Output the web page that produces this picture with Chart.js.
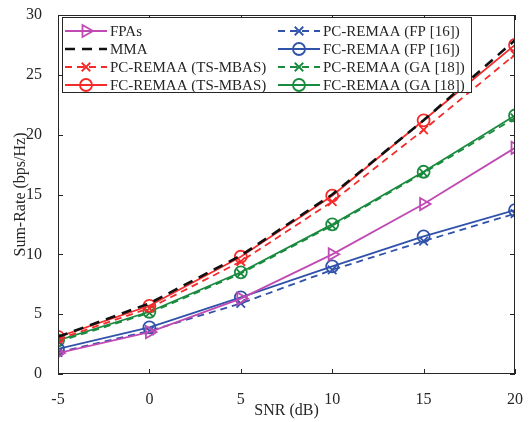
<!DOCTYPE html>
<html>
<head>
<meta charset="utf-8">
<script src="https://cdn.jsdelivr.net/npm/chart.js@4/dist/chart.umd.min.js"></script>
<style>
  html, body { margin: 0; padding: 0; background: #fff; }
  #wrap { width: 530px; height: 422px; position: relative; }
</style>
</head>
<body>
<div id="wrap"><canvas id="rate-chart" width="530" height="422"></canvas></div>
<script>
// --- data ---
const snrLabels = [-5, 0, 5, 10, 15, 20];
const yTicks = [0, 5, 10, 15, 20, 25, 30];

const fpas      = [1.75, 3.5, 6.3, 10.0, 14.2, 18.9];
const mma       = [3.1, 5.9, 9.9, 15.0, 21.2, 27.9];
const pcTsMbas  = [2.9, 5.5, 9.4, 14.4, 20.4, 26.7];
const fcTsMbas  = [3.1, 5.7, 9.8, 14.9, 21.2, 27.5];
const pcFp      = [1.8, 3.6, 5.9, 8.7, 11.1, 13.4];
const fcFp      = [2.1, 3.9, 6.4, 9.0, 11.5, 13.7];
const pcGa      = [2.7, 5.1, 8.4, 12.4, 16.8, 21.4];
const fcGa      = [2.8, 5.2, 8.5, 12.5, 16.9, 21.6];

const MAGENTA = '#c04ab4';
const RED = '#f52a2a';
const BLUE = '#3052aa';
const GREEN = '#198a3e';
const TEXT = '#262626';
const FONT = "'Liberation Serif', 'DejaVu Serif', serif";

const toPts = arr => arr.map((v, i) => ({ x: snrLabels[i], y: v }));

const series = [
    { label: 'FPAs', data: fpas, color: MAGENTA, dash: [], marker: 'triangle', rot: 90, r: 7 },
    { label: 'MMA', data: mma, color: '#111', dash: [10, 7], marker: false, width: 2.6 },
    { label: 'PC-REMAA (TS-MBAS)', data: pcTsMbas, color: RED, dash: [7, 5], marker: 'crossRot', r: 6 },
    { label: 'FC-REMAA (TS-MBAS)', data: fcTsMbas, color: RED, dash: [], marker: 'circle', r: 6 },
    { label: 'PC-REMAA (FP [16])', data: pcFp, color: BLUE, dash: [7, 5], marker: 'crossRot', r: 6 },
    { label: 'FC-REMAA (FP [16])', data: fcFp, color: BLUE, dash: [], marker: 'circle', r: 6 },
    { label: 'PC-REMAA (GA [18])', data: pcGa, color: GREEN, dash: [7, 5], marker: 'crossRot', r: 6 },
    { label: 'FC-REMAA (GA [18])', data: fcGa, color: GREEN, dash: [], marker: 'circle', r: 6 }
];

// MATLAB-like box with inward ticks
const boxPlugin = {
    id: 'matlabBox',
    afterDraw(chart) {
        const { ctx, chartArea: a, scales } = chart;
        ctx.save();
        ctx.strokeStyle = TEXT;
        ctx.lineWidth = 1;
        ctx.setLineDash([]);
        ctx.strokeRect(a.left + 0.5, a.top + 0.5, a.right - a.left - 1, a.bottom - a.top - 1);
        const tl = 5;
        ctx.beginPath();
        snrLabels.forEach(v => {
            const x = Math.round(scales.x.getPixelForValue(v)) + 0.5;
            ctx.moveTo(x, a.bottom); ctx.lineTo(x, a.bottom - tl);
            ctx.moveTo(x, a.top); ctx.lineTo(x, a.top + tl);
        });
        yTicks.forEach(v => {
            const y = Math.round(scales.y.getPixelForValue(v)) + 0.5;
            ctx.moveTo(a.left, y); ctx.lineTo(a.left + tl, y);
            ctx.moveTo(a.right, y); ctx.lineTo(a.right - tl, y);
        });
        ctx.stroke();
        ctx.restore();
    }
};

// Two-column legend inside the axes (column-major, like MATLAB NumColumns=2)
const legendPlugin = {
    id: 'boxLegend',
    afterDraw(chart) {
        const { ctx } = chart;
        const a = chart.chartArea;
        const left = a.left + 4, top = a.top + 2, w = 409, h = 75;
        const rowH = 18, firstRow = top + 14;
        const cols = [{ x0: left + 3, x1: left + 45, tx: left + 48 }, { x0: left + 216, x1: left + 258, tx: left + 261 }];
        ctx.save();
        ctx.fillStyle = '#fff';
        ctx.fillRect(left, top, w, h);
        ctx.strokeStyle = TEXT;
        ctx.lineWidth = 1;
        ctx.strokeRect(left + 0.5, top + 0.5, w, h);
        ctx.font = '15px ' + FONT;
        ctx.textBaseline = 'middle';
        series.forEach((s, i) => {
            const c = cols[Math.floor(i / 4)];
            const y = firstRow + (i % 4) * rowH;
            ctx.strokeStyle = s.color;
            ctx.lineWidth = s.width || 1.8;
            ctx.setLineDash(s.dash);
            ctx.beginPath();
            ctx.moveTo(c.x0, y); ctx.lineTo(c.x1, y);
            ctx.stroke();
            ctx.setLineDash([]);
            if (s.marker) {
                ctx.fillStyle = 'rgba(0,0,0,0)';
                Chart.helpers.drawPoint(ctx, {
                    pointStyle: s.marker, rotation: s.rot || 0, radius: s.r, borderWidth: 1.8
                }, (c.x0 + c.x1) / 2, y);
            }
            ctx.fillStyle = TEXT;
            ctx.fillText(s.label, c.tx, y + 1);
        });
        ctx.restore();
    }
};

const datasets = series.map(s => ({
    label: s.label,
    data: toPts(s.data),
    borderColor: s.color,
    backgroundColor: 'rgba(0,0,0,0)',
    borderWidth: s.width || 1.8,
    borderDash: s.dash,
    pointStyle: s.marker || 'circle',
    pointRotation: s.rot || 0,
    pointRadius: s.marker ? s.r : 0,
    pointBorderWidth: 1.8,
    pointBorderColor: s.color,
    pointBackgroundColor: 'rgba(0,0,0,0)',
    tension: 0,
    fill: false
}));

new Chart(document.getElementById('rate-chart'), {
    type: 'line',
    data: { datasets },
    options: {
        responsive: false,
        animation: false,
        layout: { padding: { top: 15, right: 15, left: 0, bottom: 0 } },
        plugins: { legend: { display: false }, tooltip: { enabled: false } },
        scales: {
            x: {
                type: 'linear', min: -5, max: 20,
                afterBuildTicks: sc => { sc.ticks = snrLabels.map(v => ({ value: v })); },
                afterFit: sc => { sc.height = 48; sc.paddingLeft = 0; sc.paddingRight = 0; },
                grid: { display: false },
                border: { display: false },
                ticks: { color: TEXT, font: { family: FONT, size: 16 }, padding: 8, maxRotation: 0 },
                title: { display: true, text: 'SNR (dB)', color: TEXT, font: { family: FONT, size: 16 }, padding: { top: 0, bottom: 2 } }
            },
            y: {
                min: 0, max: 30,
                afterBuildTicks: sc => { sc.ticks = yTicks.map(v => ({ value: v })); },
                afterFit: sc => { sc.width = 58; sc.paddingTop = 0; sc.paddingBottom = 0; },
                grid: { display: false },
                border: { display: false },
                ticks: { color: TEXT, font: { family: FONT, size: 16 }, padding: 8 },
                title: { display: true, text: 'Sum-Rate (bps/Hz)', color: TEXT, font: { family: FONT, size: 16 }, padding: { top: 11, bottom: 0 } }
            }
        }
    },
    plugins: [boxPlugin, legendPlugin]
});
</script>
</body>
</html>
